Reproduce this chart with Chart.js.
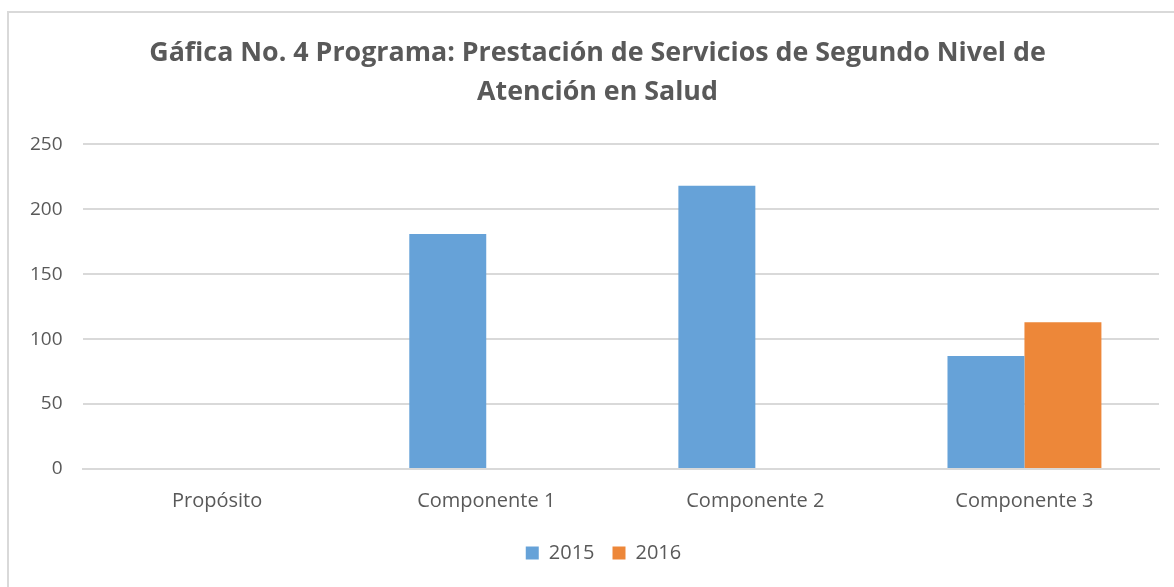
<!DOCTYPE html>
<html>
<head>
<meta charset="utf-8">
<script src="https://cdn.jsdelivr.net/npm/chart.js@4"></script>
<style>
  html, body { margin: 0; padding: 0; background: #fff; overflow: hidden; }
  #marco {
    position: absolute; left: 7px; top: 11px; width: 1200px; height: 600px;
    border: 2px solid #d9d9d9; box-sizing: border-box;
  }
  #caja { position: absolute; left: 0; top: 0; width: 1174px; height: 587px; }
</style>
</head>
<body>
<div id="marco"></div>
<div id="caja"><canvas id="myChart"></canvas></div>
<script>
// datos
const categorias = ["Propósito", "Componente 1", "Componente 2", "Componente 3"];
const valores2015 = [0, 181, 218, 87];
const valores2016 = [0, 0, 0, 113];
const titulo = ["Gáfica No. 4 Programa: Prestación de Servicios de Segundo Nivel de", "Atención en Salud"];

const gris = '#595959';

const data = {
  labels: categorias,
  datasets: [
    { label: '2015', data: valores2015, backgroundColor: '#66a2d8' },
    { label: '2016', data: valores2016, backgroundColor: '#ed8739' }
  ]
};

// el grafico original sigue mas alla del borde derecho, asi que titulo y leyenda van algo corridos
const corrido = {
  id: 'corrido',
  afterLayout(chart) {
    chart.titleBlock.left += 13;
    chart.titleBlock.right += 13;
    chart.legend.left += 19;
    chart.legend.right += 19;
  }
};

const ctx = document.getElementById('myChart').getContext('2d');
const myChart = new Chart(ctx, {
  type: 'bar',
  data: data,
  plugins: [corrido],
  options: {
    responsive: true,
    maintainAspectRatio: false,
    animation: false,
    layout: { padding: { left: 10, right: 15, top: 34, bottom: 14 } },
    datasets: { bar: { categoryPercentage: 0.572, barPercentage: 1 } },
    plugins: {
      title: {
        display: true,
        text: titulo,
        color: gris,
        font: { family: 'Open Sans', size: 26.8, weight: 'bold', lineHeight: 1.46 },
        padding: { top: 0, bottom: 32 }
      },
      legend: {
        position: 'bottom',
        labels: {
          color: gris,
          font: { family: 'Open Sans', size: 20 },
          boxWidth: 13, boxHeight: 13, padding: 18
        }
      },
      tooltip: { enabled: false }
    },
    scales: {
      x: {
        grid: { display: false },
        border: { color: '#d9d9d9', width: 2 },
        ticks: { color: gris, font: { family: 'Open Sans', size: 20 }, padding: 12 }
      },
      y: {
        min: 0, max: 250,
        ticks: { stepSize: 50, color: gris, font: { family: 'Open Sans', size: 19 }, padding: 20 },
        grid: { color: '#d9d9d9', lineWidth: 2, drawTicks: false },
        border: { display: false }
      }
    }
  }
});
</script>
</body>
</html>
